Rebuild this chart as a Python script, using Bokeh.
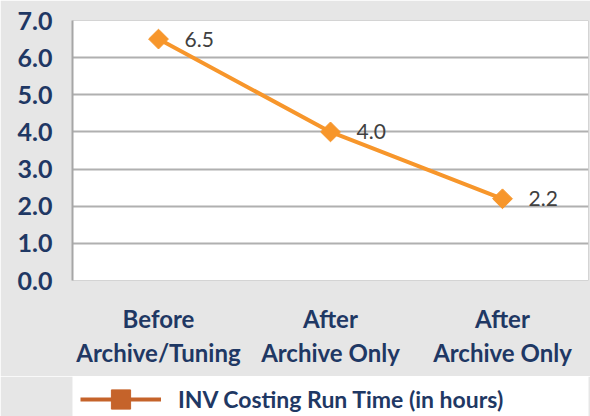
import numpy as np
from bokeh.plotting import figure
from bokeh.layouts import column
from bokeh.models import (ColumnDataSource, Range1d, FixedTicker, Legend, LegendItem,
                          LabelSet)
from bokeh.core.properties import value
from bokeh.embed import file_html
from bokeh.resources import INLINE

categories = ["Before\nArchive/Tuning", "After\nArchive Only", "After\nArchive Only"]
run_time = [6.5, 4.0, 2.2]
y_ticks = [0, 1, 2, 3, 4, 5, 6, 7]
series_name = "INV Costing Run Time (in hours)"

NAVY = "#1f3864"
ORANGE = "#f7962b"
LEG_ORANGE = "#c5632a"
BG = "#e6e6e6"
FONT = "Lato"

xs = list(range(len(categories)))
src = ColumnDataSource(dict(x=xs, y=run_time, lab=[f"{v:.1f}" for v in run_time]))

p = figure(width=590, height=376, output_backend="svg", toolbar_location=None,
           x_range=Range1d(-0.5, len(categories) - 0.5), y_range=Range1d(0, 7),
           min_border_left=72, min_border_right=2, min_border_top=20, min_border_bottom=96)
p.border_fill_color = BG
p.background_fill_color = "white"
p.outline_line_color = "#d4d4d4"

# y axis
p.yaxis.ticker = FixedTicker(ticks=y_ticks)
p.yaxis.major_label_overrides = {t: f"{t:.1f}" for t in y_ticks}
p.yaxis.major_label_text_font = FONT
p.yaxis.major_label_text_font_style = "bold"
p.yaxis.major_label_text_font_size = "25px"
p.yaxis.major_label_text_color = NAVY
p.yaxis.major_tick_line_color = None
p.yaxis.minor_tick_line_color = None
p.yaxis.axis_line_color = "#a6a6a6"
p.yaxis.axis_line_width = 2
p.yaxis.major_label_standoff = 14

# x axis
p.xaxis.ticker = FixedTicker(ticks=xs)
p.xaxis.major_label_overrides = {i: c for i, c in zip(xs, categories)}
p.xaxis.major_label_text_font = FONT
p.xaxis.major_label_text_font_style = "bold"
p.xaxis.major_label_text_font_size = "24px"
p.xaxis.major_label_text_color = NAVY
p.xaxis.major_label_text_line_height = 1.2
p.xaxis.major_tick_line_color = None
p.xaxis.minor_tick_line_color = None
p.xaxis.axis_line_color = None
p.xaxis.major_label_standoff = 17

p.xgrid.grid_line_color = None
p.ygrid.ticker = FixedTicker(ticks=y_ticks)
p.ygrid.grid_line_color = "#b0b0b0"
p.ygrid.grid_line_width = 2

p.line("x", "y", source=src, line_color=ORANGE, line_width=4)
p.scatter("x", "y", source=src, marker="square", size=14, angle=np.pi / 4,
          fill_color=ORANGE, line_color=ORANGE)

labels = LabelSet(x="x", y="y", text="lab", source=src, x_offset=26, y_offset=0,
                  text_font=value(FONT), text_font_size="21px", text_color="#404040",
                  text_baseline="middle", text_align="left")
p.add_layout(labels)

# legend strip
q = figure(width=590, height=40, output_backend="svg", toolbar_location=None,
           x_range=Range1d(0, 1), y_range=Range1d(0, 1),
           min_border=0, min_border_left=0, min_border_right=0,
           min_border_top=0, min_border_bottom=0)
q.axis.visible = False
q.grid.grid_line_color = None
q.outline_line_color = None
q.background_fill_color = None
q.border_fill_color = BG
proxy = ColumnDataSource(dict(x=[np.nan], y=[np.nan]))
lr = q.line("x", "y", source=proxy, line_color=LEG_ORANGE, line_width=4)
sr = q.scatter("x", "y", source=proxy, marker="square", size=19,
               fill_color=LEG_ORANGE, line_color=LEG_ORANGE)
legend = Legend(items=[LegendItem(label=series_name, renderers=[lr, sr])],
                location=(8, -7), orientation="horizontal",
                glyph_width=81, glyph_height=48, label_height=20,
                label_standoff=17, padding=0, margin=0,
                border_line_color=None, background_fill_alpha=0,
                label_text_font=FONT, label_text_font_style="bold",
                label_text_font_size="23px", label_text_color=NAVY)
q.add_layout(legend, "center")

layout = column(p, q, spacing=0)
open("out.html", "w").write(file_html(layout, INLINE))
